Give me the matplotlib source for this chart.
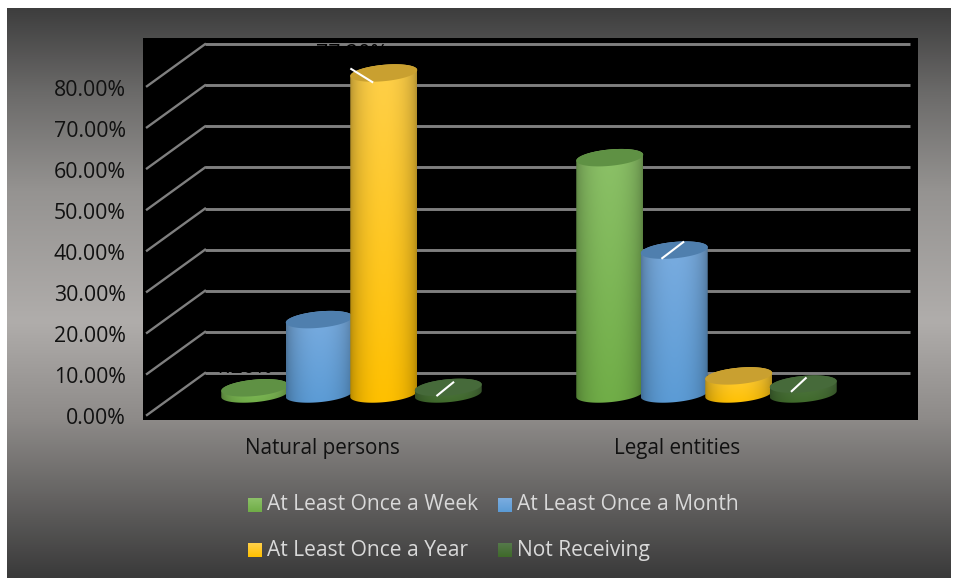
import numpy as np
import matplotlib
matplotlib.use("Agg")
import matplotlib.pyplot as plt
from matplotlib.colors import LinearSegmentedColormap
from matplotlib.patches import PathPatch
from matplotlib.path import Path
from matplotlib.transforms import ScaledTranslation

categories = ["Natural persons", "Legal entities"]
series = ["At Least Once a Week", "At Least Once a Month", "At Least Once a Year", "Not Receiving"]
natural = [1.5, 18.1, 78.1, 1.6]
legal = [57.5, 35.0, 4.4, 2.4]
yticks = [0, 10, 20, 30, 40, 50, 60, 70, 80]

W, H = 958, 579
PX_Y = 4.11      # pixels per percent
PX_X = 355.0     # pixels per category
X0 = 351.5       # pixel of first group centre
Y0 = 415.0       # pixel of 0% on front edge

plt.rcParams["font.family"] = ["Open Sans", "DejaVu Sans"]

fig = plt.figure(figsize=(W / 100, H / 100), dpi=100, facecolor="white")

# backdrop gradient
bg = fig.add_axes([7 / W, 1 - 578 / H, 944 / W, 570 / H])
grad = LinearSegmentedColormap.from_list("bg", [(0, "#3e3e3e"), (0.15, "#6c6b6a"), (0.32, "#959391"),
                                                (0.55, "#b0adab"), (0.72, "#8e8b89"), (1, "#3a3a3a")])
bg.imshow(np.linspace(0, 1, 256)[:, None], aspect="auto", cmap=grad, vmin=0, vmax=1)
bg.axis("off")

left, right, top, bottom = 143, 918, 38, 420
ax = fig.add_axes([left / W, 1 - bottom / H, (right - left) / W, (bottom - top) / H])
ax.set_facecolor("black")
for s in ax.spines.values():
    s.set_visible(False)

ux = 1 / PX_X
uy = 1 / PX_Y
depth = 42 * uy
floor = 21 * uy     # bar base sits this far up the floor
a = 33.5 * ux
b = 8.2 * uy
shear = 3.0 * uy
width = 64.5 * ux

# walls
for v in yticks:
    ax.plot([(205 - X0) * ux, (910 - X0) * ux], [v + depth, v + depth], color="#7f7f7f", lw=2.1, zorder=1, solid_capstyle="butt")
    ax.plot([(147 - X0) * ux, (205 - X0) * ux], [v, v + depth], color="#7f7f7f", lw=1.7, zorder=1)

ax.set_yticks(yticks)
ax.set_yticklabels(["%.2f%%" % v for v in yticks], fontsize=15.3, color="#111111")
ax.set_xticks([i - 29 * ux for i in range(len(categories))])
ax.set_xticklabels(categories, fontsize=14.9, color="#111111")
ax.tick_params(length=0)
ax.tick_params(axis="y", pad=12.5)
ax.tick_params(axis="x", pad=13)
nudge = ScaledTranslation(0, -1.5 / 100, fig.dpi_scale_trans)
for lab in ax.get_yticklabels():
    lab.set_va("center_baseline")
    lab.set_transform(lab.get_transform() + nudge)

side_top = ["#8cc168", "#7bade0", "#ffd04a", "#55794a"]
side_bot = ["#70ad47", "#5b9bd5", "#ffc000", "#3f6a2a"]
face = ["#5f9144", "#4f7fae", "#c9a030", "#466a3a"]


def ellipse(cx, cy):
    t = np.linspace(0, 2 * np.pi, 80)
    return cx + a * np.cos(t), cy + b * np.sin(t) + shear * np.cos(t)


def cylinder(cx, val, i, z):
    base = floor
    tip = floor + val
    xt, yt = ellipse(cx, tip)
    # body outline: top half of the cap plus lower half of the base
    up = np.linspace(0, np.pi, 40)
    lo = np.linspace(np.pi, 2 * np.pi, 40)
    px = np.r_[cx + a * np.cos(up), cx + a * np.cos(lo)]
    py = np.r_[tip + b * np.sin(up) + shear * np.cos(up), base + b * np.sin(lo) + shear * np.cos(lo)]
    clip = PathPatch(Path(np.c_[px, py]), transform=ax.transData, fc="none", ec="none")
    ax.add_patch(clip)
    s = np.linspace(-1, 1, 120)
    shade = 0.62 + 0.38 * np.sqrt(1 - (s * 0.98) ** 2)
    c0 = np.array(matplotlib.colors.to_rgb(side_top[i]))
    c1 = np.array(matplotlib.colors.to_rgb(side_bot[i]))
    f = np.linspace(0, 1, 60)[:, None, None]
    img = (c0 * (1 - f) + c1 * f) * shade[None, :, None]
    im = ax.imshow(np.clip(img, 0, 1), extent=[cx - a, cx + a, base - b - shear, tip + b + shear],
                   aspect="auto", zorder=z, interpolation="bilinear")
    im.set_clip_path(clip)
    ax.fill(xt, yt, color=face[i], zorder=z + 0.1, lw=0)


z = 3
for g, vals in enumerate([natural, legal]):
    for i, val in enumerate(vals):
        cx = g + (i - 1.5) * width
        cylinder(cx, val, i, z)
        z += 1

ax.set_xlim((left - X0) * ux, (right - X0) * ux)
ax.set_ylim((Y0 - bottom) * uy, (Y0 - top) * uy)

# leader lines of the data labels, offsets in pixels from the top of the bar
leaders = [(0, 2, -32.5, 4, -11.5, -9), (0, 3, -11, -8, 5, 5), (1, 1, -12, -8, 9, 8), (1, 3, -11.5, -7, 2.5, 6)]
allvals = [natural, legal]
for g, i, dx0, dy0, dx1, dy1 in leaders:
    cx = g + (i - 1.5) * width
    tip = floor + allvals[g][i]
    ax.plot([cx + dx0 * ux, cx + dx1 * ux], [tip + dy0 * uy, tip + dy1 * uy], color="white", lw=1.5, zorder=50)

# black data labels, only seen where they cross a grid line
ax.text(0, 80 + depth + 0.5 * uy, "77.20%", color="black", fontsize=15.3, ha="center", va="top", zorder=2)
ax.text(-0.305, depth - 5 * uy, "1.20%", color="black", fontsize=15.3, ha="center", va="bottom", zorder=2)

# legend
for col, row, i in [(0, 0, 0), (1, 0, 1), (0, 1, 2), (1, 1, 3)]:
    lx = [248, 498][col]
    ly = [504.5, 550][row]
    sw = fig.add_axes([lx / W, 1 - (ly + 7) / H, 14 / W, 14 / H])
    cm = LinearSegmentedColormap.from_list("sw", [side_top[i], side_bot[i]])
    sw.imshow(np.linspace(0, 1, 32)[:, None], aspect="auto", cmap=cm)
    sw.axis("off")
    fig.text((lx + 19) / W, 1 - (ly + 0.5) / H, series[i], color="#d9d9d9", fontsize=15.15, ha="left", va="center")

fig.savefig("out.png", dpi=100, facecolor="white")
